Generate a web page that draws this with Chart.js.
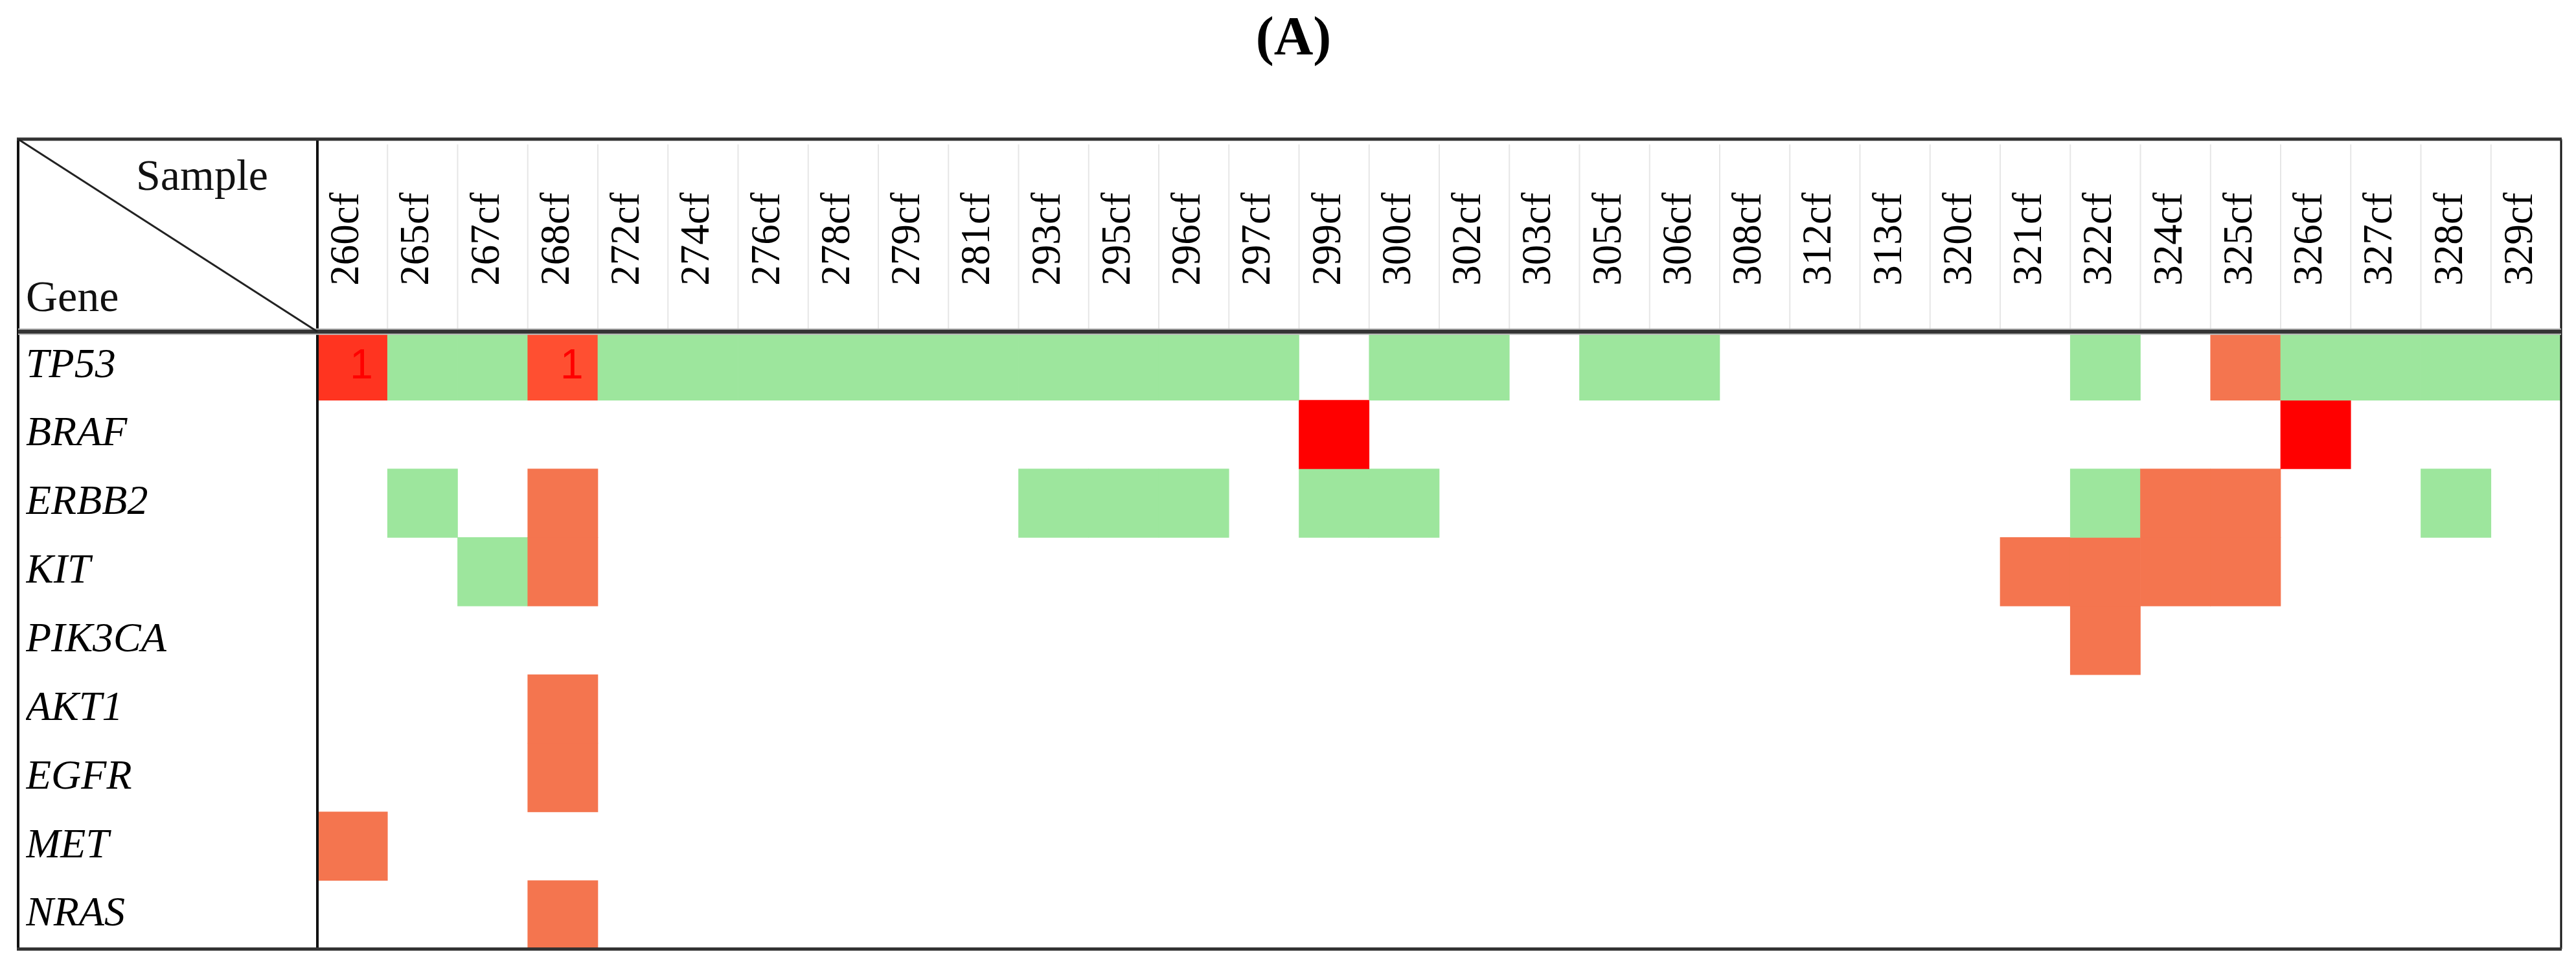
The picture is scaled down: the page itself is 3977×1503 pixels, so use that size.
<!DOCTYPE html>
<html>
<head>
<meta charset="utf-8">
<title>Gene variants by sample</title>
<script src="https://cdn.jsdelivr.net/npm/chart.js@4.4.1/dist/chart.umd.min.js"></script>
<style>
  html, body { margin: 0; padding: 0; background: #fff; }
  #wrap { width: 3977px; height: 1503px; position: relative; }
</style>
</head>
<body>
<div id="wrap"><canvas id="chart"></canvas></div>
<script>
const samples = ["260cf", "265cf", "267cf", "268cf", "272cf", "274cf", "276cf", "278cf",
  "279cf", "281cf", "293cf", "295cf", "296cf", "297cf", "299cf", "300cf", "302cf", "303cf",
  "305cf", "306cf", "308cf", "312cf", "313cf", "320cf", "321cf", "322cf", "324cf", "325cf",
  "326cf", "327cf", "328cf", "329cf"];
const genes = ["TP53", "BRAF", "ERBB2", "KIT", "PIK3CA", "AKT1", "EGFR", "MET", "NRAS"];

// cell codes: 0 empty, 1 green, 2 orange, 3 red, 4 / 5 red cells that carry a "1"
const tp53   = [4,1,1,5,1,1,1,1,1,1,1,1,1,1,0,1,1,0,1,1,0,0,0,0,0,1,0,2,1,1,1,1];
const braf   = [0,0,0,0,0,0,0,0,0,0,0,0,0,0,3,0,0,0,0,0,0,0,0,0,0,0,0,0,3,0,0,0];
const erbb2  = [0,1,0,2,0,0,0,0,0,0,1,1,1,0,1,1,0,0,0,0,0,0,0,0,0,1,2,2,0,0,1,0];
const kit    = [0,0,1,2,0,0,0,0,0,0,0,0,0,0,0,0,0,0,0,0,0,0,0,0,2,2,2,2,0,0,0,0];
const pik3ca = [0,0,0,0,0,0,0,0,0,0,0,0,0,0,0,0,0,0,0,0,0,0,0,0,0,2,0,0,0,0,0,0];
const akt1   = [0,0,0,2,0,0,0,0,0,0,0,0,0,0,0,0,0,0,0,0,0,0,0,0,0,0,0,0,0,0,0,0];
const egfr   = [0,0,0,2,0,0,0,0,0,0,0,0,0,0,0,0,0,0,0,0,0,0,0,0,0,0,0,0,0,0,0,0];
const met    = [2,0,0,0,0,0,0,0,0,0,0,0,0,0,0,0,0,0,0,0,0,0,0,0,0,0,0,0,0,0,0,0];
const nras   = [0,0,0,2,0,0,0,0,0,0,0,0,0,0,0,0,0,0,0,0,0,0,0,0,0,0,0,0,0,0,0,0];
const geneRows = [tp53, braf, erbb2, kit, pik3ca, akt1, egfr, met, nras];

// text written inside TP53 cells
const tp53Marks = [["260cf", "1"], ["268cf", "1"]];

const statusColors = { 0: "rgba(0,0,0,0)", 1: "#9de69d", 2: "#f4754f", 3: "#ff0000", 4: "#ff3420", 5: "#ff4f31" };

const SERIF = "'Liberation Serif', 'Times New Roman', serif";

// header dividers, borders, corner cell
const tableFrame = {
  id: "tableFrame",
  beforeDatasetsDraw(chart) {
    const { ctx, chartArea: a, scales: { x } } = chart;
    ctx.save();
    ctx.strokeStyle = "#e6e6e6";
    ctx.lineWidth = 2;
    for (let i = 1; i < samples.length; i++) {
      const px = (x.getPixelForTick(i - 1) + x.getPixelForTick(i)) / 2;
      ctx.beginPath(); ctx.moveTo(px, x.top + 8); ctx.lineTo(px, a.top); ctx.stroke();
    }
    ctx.restore();
  },
  afterDatasetsDraw(chart) {
    const { ctx } = chart;
    const meta = chart.getDatasetMeta(genes.indexOf("TP53"));
    ctx.save();
    ctx.fillStyle = "#ff0000";
    ctx.font = "64px 'Liberation Sans', Arial, sans-serif";
    ctx.textAlign = "center";
    ctx.textBaseline = "middle";
    tp53Marks.forEach(([s, txt]) => {
      const el = meta.data[samples.indexOf(s)];
      ctx.fillText(txt, el.x + 14, (el.y + el.base) / 2 + 2);
    });
    ctx.restore();
  },
  afterDraw(chart) {
    const { ctx, chartArea: a, scales: { x } } = chart;
    const left = 28, top = x.top;
    ctx.save();
    ctx.strokeStyle = "#111";
    // outer verticals + label column separator
    ctx.lineWidth = 4;
    ctx.beginPath();
    ctx.moveTo(left, top); ctx.lineTo(left, a.bottom);
    ctx.moveTo(a.left, top); ctx.lineTo(a.left, a.bottom);
    ctx.stroke();
    ctx.lineWidth = 3;
    ctx.beginPath(); ctx.moveTo(a.right, top); ctx.lineTo(a.right, a.bottom); ctx.stroke();
    // horizontal rules
    ctx.strokeStyle = "#bbb";
    ctx.lineWidth = 10;
    ctx.beginPath();
    ctx.moveTo(left, a.top); ctx.lineTo(a.right, a.top);
    ctx.stroke();
    ctx.strokeStyle = "#333";
    ctx.lineWidth = 5;
    ctx.beginPath();
    ctx.moveTo(left - 2, top); ctx.lineTo(a.right + 1, top);
    ctx.moveTo(left - 2, a.bottom); ctx.lineTo(a.right + 1, a.bottom);
    ctx.stroke();
    ctx.lineWidth = 6;
    ctx.beginPath(); ctx.moveTo(left, a.top); ctx.lineTo(a.right, a.top); ctx.stroke();
    // corner diagonal
    ctx.strokeStyle = "#222";
    ctx.lineWidth = 3;
    ctx.beginPath(); ctx.moveTo(left, top); ctx.lineTo(a.left, a.top); ctx.stroke();
    // corner captions
    ctx.fillStyle = "#111";
    ctx.font = "68px " + SERIF;
    ctx.textBaseline = "alphabetic";
    ctx.textAlign = "left";
    ctx.fillText("Sample", 210, top + 78);
    ctx.fillText("Gene", 40, a.top - 32);
    ctx.restore();
  }
};

const datasets = genes.map((g, r) => ({
  label: g,
  data: geneRows[r].map(c => (c ? [r, r + 1] : null)),
  backgroundColor: geneRows[r].map(c => statusColors[c]),
  borderWidth: 0,
  borderSkipped: false,
  grouped: false,
  barPercentage: 1,
  categoryPercentage: 1,
  yAxisID: "y"
}));

new Chart(document.getElementById("chart"), {
  type: "bar",
  data: { labels: samples, datasets },
  options: {
    responsive: true,
    maintainAspectRatio: false,
    devicePixelRatio: 1,
    animation: false,
    events: [],
    layout: { padding: { left: 40, right: 23, top: 0, bottom: 28 } },
    plugins: {
      legend: { display: false },
      tooltip: { enabled: false },
      title: {
        display: true,
        text: "(A)",
        color: "#000",
        font: { family: SERIF, size: 84, weight: "bold" },
        padding: { top: 12, bottom: 102 }
      }
    },
    scales: {
      x: {
        type: "category",
        position: "top",
        offset: true,
        grid: { display: false, drawTicks: false },
        border: { display: false },
        ticks: {
          autoSkip: false,
          minRotation: 90,
          maxRotation: 90,
          padding: 71,
          labelOffset: 68,
          color: "#000",
          font: { family: SERIF, size: 63 }
        },
        afterFit: (scale) => { scale.height = 297; }
      },
      y: {
        type: "linear",
        display: false,
        min: 0,
        max: genes.length,
        reverse: true
      },
      yGene: {
        type: "category",
        labels: genes,
        position: "left",
        offset: true,
        grid: { display: false, drawTicks: false },
        border: { display: false },
        ticks: {
          crossAlign: "far",
          padding: 0,
          color: "#000",
          font: { family: SERIF, size: 64, style: "italic" }
        },
        afterFit: (scale) => { scale.width = 450; }
      }
    }
  },
  plugins: [tableFrame]
});
</script>
</body>
</html>
